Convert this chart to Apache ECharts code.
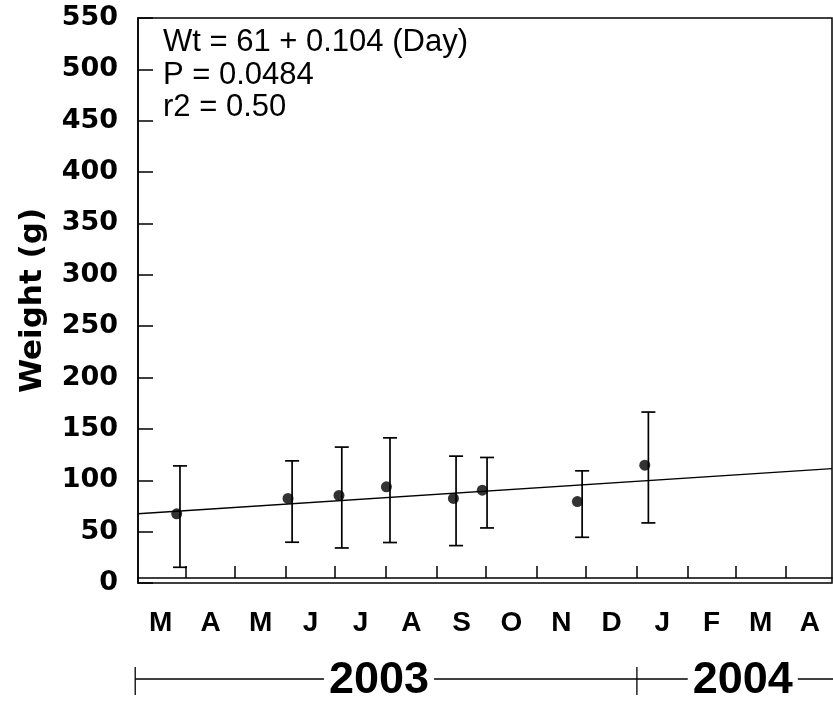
<!DOCTYPE html>
<html><head><meta charset="utf-8">
<script src="https://cdn.jsdelivr.net/npm/echarts@6/dist/echarts.min.js"></script>
<style>html,body{margin:0;padding:0;background:#fff}#c{width:833px;height:707px}</style>
</head><body><div id="c"></div><script>
// ---- data (x = day number counted from 1 Jan 2003) ----
const monthLabels = ['M','A','M','J','J','A','S','O','N','D','J','F','M','A'];
const monthMidDays = [75.5,106,136.5,167,197.5,228.5,259,289.5,320,350.5,381.5,411.5,441.5,471.5];
const monthStartDays = [91,121,152,182,213,244,274,305,335,366,397,426,457];
const yearLabels = ['2003','2004'];
const yearStartDays = [60,366];
const yearLabelDays = [208.7,430.6];
const sampleDays = [85.3,153.2,184.3,213.2,254.1,271.7,329.7,370.8];
const meanWeights = [67.3,82.3,85.2,93.6,82.3,90.4,79.3,114.7];
const barDays = [87.3,155.7,186.0,215.4,255.7,274.6,332.6,373.0];
const barHigh = [114.0,118.9,132.3,141.3,123.5,122.2,109.2,166.4];
const barLow = [15.3,39.7,34.1,39.4,36.4,53.6,44.5,58.5];
const fitLine = [[61.7,67.4],[485,111.4]];
const statLines = ['Wt = 61 + 0.104 (Day)','P = 0.0484','r2 = 0.50'];
const xMin = 61.7, xMax = 485, yMin = 0, yMax = 550, yStep = 50;

const chart = echarts.init(document.getElementById('c'));
const monthMap = {};
monthMidDays.forEach((d,i)=>monthMap[d]=monthLabels[i]);

const option = {
  animation:false,
  backgroundColor:'#fff',
  grid:{left:138,right:1,top:18,bottom:124,show:true,borderColor:'#000',borderWidth:1.5,backgroundColor:'transparent'},
  xAxis:{
    type:'value', min:xMin, max:xMax, offset:-5,
    axisLine:{show:true,onZero:false,lineStyle:{color:'#000',width:1.5}},
    axisTick:{show:true,inside:true,length:12,customValues:monthStartDays,lineStyle:{color:'#000',width:1.5}},
    axisLabel:{show:true,customValues:monthMidDays,margin:31,color:'#000',fontFamily:'Liberation Sans, Arial, sans-serif',fontWeight:'bold',fontSize:28,
      formatter:v=>monthMap[v]||''},
    splitLine:{show:false}
  },
  yAxis:{
    type:'value', min:yMin, max:yMax, interval:yStep,
    name:'Weight (g)', nameLocation:'middle', nameGap:90, nameRotate:90,
    nameTextStyle:{color:'#000',fontFamily:'DejaVu Sans',fontWeight:'bold',fontSize:31},
    axisLine:{show:true,lineStyle:{color:'#000',width:1.5}},
    axisTick:{show:true,inside:true,length:15,lineStyle:{color:'#000',width:1.5}},
    axisLabel:{margin:20,color:'#000',fontFamily:'DejaVu Sans',fontWeight:'bold',fontSize:27},
    splitLine:{show:false}
  },
  series:[
    {type:'line',data:fitLine,symbol:'none',lineStyle:{color:'#000',width:1.3},z:2},
    {type:'custom',data:barDays.map((d,i)=>[d,barHigh[i],barLow[i]]),encode:{x:0,y:[1,2]},z:3,
      renderItem:function(params,api){
        const x=api.value(0),hi=api.value(1),lo=api.value(2);
        const a=api.coord([x,hi]),b=api.coord([x,lo]);const w=7;
        const st={stroke:'#000',lineWidth:1.7};
        return {type:'group',children:[
          {type:'line',shape:{x1:a[0],y1:a[1],x2:b[0],y2:b[1]},style:st},
          {type:'line',shape:{x1:a[0]-w,y1:a[1],x2:a[0]+w,y2:a[1]},style:st},
          {type:'line',shape:{x1:b[0]-w,y1:b[1],x2:b[0]+w,y2:b[1]},style:st}
        ]};
      }},
    {type:'scatter',data:sampleDays.map((d,i)=>[d,meanWeights[i]]),symbol:'circle',symbolSize:11,itemStyle:{color:'#000'},z:4}
  ]
};
chart.setOption(option);

// year bracket row under the month labels
const yLine = 679;
const gfx = [];
const x0 = chart.convertToPixel({xAxisIndex:0}, yearStartDays[0]);
gfx.push({type:'line',shape:{x1:x0,y1:yLine,x2:833,y2:yLine},style:{stroke:'#000',lineWidth:1.3},z:1});
yearStartDays.forEach(d=>{
  const px = chart.convertToPixel({xAxisIndex:0}, d);
  gfx.push({type:'line',shape:{x1:px,y1:667,x2:px,y2:695},style:{stroke:'#000',lineWidth:1.3},z:1});
});
yearLabels.forEach((t,i)=>{
  const px = chart.convertToPixel({xAxisIndex:0}, yearLabelDays[i]);
  gfx.push({type:'text',x:px,y:681,z:5,style:{text:t,fill:'#000',font:'bold 45px "Liberation Sans", Arial, sans-serif',
    align:'center',verticalAlign:'middle',backgroundColor:'#fff',padding:[0,5]}});
});
statLines.forEach((t,i)=>{
  gfx.push({type:'text',left:163,top:27+i*32.5,z:5,style:{text:t,fill:'#000',font:'31px "Liberation Sans", Arial, sans-serif'}});
});
chart.setOption({graphic:gfx});
</script></body></html>
